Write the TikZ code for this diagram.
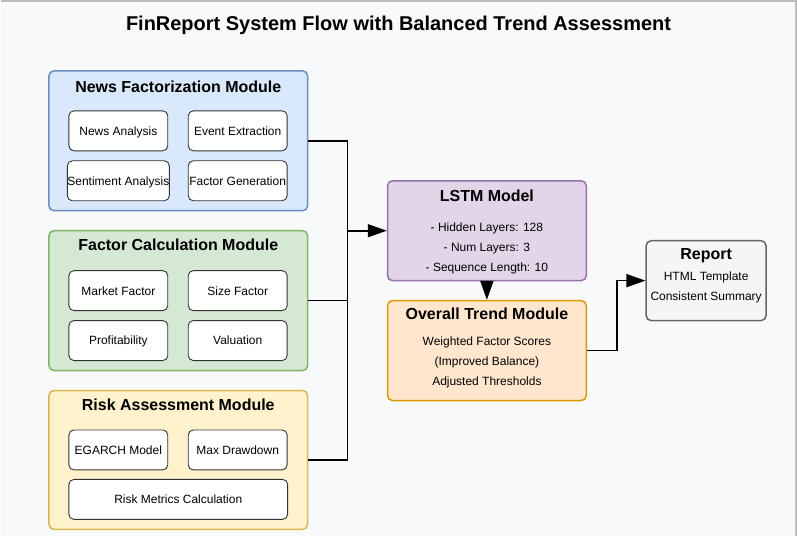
\documentclass[tikz,border=0pt]{standalone}
\usepackage{fontspec}
\setmainfont{Liberation Sans}
\usetikzlibrary{arrows.meta}
\definecolor{page-bg}{HTML}{F8F9FA}
\definecolor{page-edge}{HTML}{BDBDBD}
\definecolor{news-fill}{HTML}{DAE8FC}
\definecolor{news-line}{HTML}{6C8EBF}
\definecolor{factor-fill}{HTML}{D5E8D4}
\definecolor{factor-line}{HTML}{82B366}
\definecolor{risk-fill}{HTML}{FFF2CC}
\definecolor{risk-line}{HTML}{D6B656}
\definecolor{lstm-fill}{HTML}{E1D5E7}
\definecolor{lstm-line}{HTML}{9673A6}
\definecolor{trend-fill}{HTML}{FFE6CC}
\definecolor{trend-line}{HTML}{D79B00}
\definecolor{report-fill}{HTML}{F5F5F5}
\definecolor{report-line}{HTML}{666666}
\tikzset{
    module-box/.style = {draw=#1-line, fill=#1-fill, line width=1.5pt, rectangle, rounded corners=5pt, minimum width=259pt, minimum height=140pt, inner sep=0pt},
    module-title/.style = {font=\fontsize{16}{18}\selectfont\bfseries, text height=11.5pt, text depth=0pt, anchor=base},
    sub-box/.style = {draw=black!80, fill=white, line width=0.9pt, rectangle, rounded corners=5pt, minimum width=99pt, minimum height=40pt, inner sep=0pt, text height=8.8pt, text depth=0pt, font=\fontsize{12}{14}\selectfont},
    block-text/.style = {align=center, font=\fontsize{12}{20}\selectfont},
    link/.style = {line width=1.6pt, black},
    link-arrow/.style = {link, -{Triangle[length=19pt, width=13pt]}},
}
\begin{document}
\begin{tikzpicture}[x=1pt, y=-1pt]
\fill[page-bg] (0,0) rectangle (797,537);
\draw[page-edge, line width=2pt] (0,1) -- (796,1) -- (796,537);
\node[font=\fontsize{20}{22}\selectfont\bfseries, anchor=base] (title) at (398,31) {FinReport System Flow with Balanced Trend Assessment};

% left modules
\node[module-box=news] (news) at (177.5,141) {};
\node[module-title] at ([yshift=-22pt]news.north) {News Factorization Module};
\node[sub-box] (news-a) at (117.5,131) {News Analysis};
\node[sub-box] (news-b) at (237,131) {Event Extraction};
\node[sub-box] (news-c) at (117.5,181) {Sentiment Analysis};
\node[sub-box] (news-d) at (237,181) {Factor Generation};

\node[module-box=factor] (factor) at (177.5,301) {};
\node[module-title] at ([yshift=-21pt]factor.north) {Factor Calculation Module};
\node[sub-box] (factor-a) at (117.5,291) {Market Factor};
\node[sub-box] (factor-b) at (237,291) {Size Factor};
\node[sub-box] (factor-c) at (117.5,341) {Profitability};
\node[sub-box] (factor-d) at (237,341) {Valuation};

\node[module-box=risk, minimum height=139pt] (risk) at (177.5,460.5) {};
\node[module-title] at ([yshift=-21pt]risk.north) {Risk Assessment Module};
\node[sub-box] (risk-a) at (117.5,450.5) {EGARCH Model};
\node[sub-box] (risk-b) at (237,450.5) {Max Drawdown};
\node[sub-box, minimum width=219pt] (risk-c) at (177.5,500) {Risk Metrics Calculation};

% model and outputs
\node[module-box=lstm, minimum width=199pt, minimum height=100pt] (lstm) at (486.5,231) {};
\node[module-title] at ([yshift=-21pt]lstm.north) {LSTM Model};
\node[block-text] at (486.5,249) {- Hidden Layers: 128\\- Num Layers: 3\\- Sequence Length: 10};

\node[module-box=trend, minimum width=199pt, minimum height=100pt] (trend) at (486.5,351) {};
\node[module-title] at ([yshift=-20pt]trend.north) {Overall Trend Module};
\node[block-text] at (486.5,363) {Weighted Factor Scores\\(Improved Balance)\\Adjusted Thresholds};

\node[module-box=report, minimum width=120pt, minimum height=80pt] (report) at (706,281) {};
\node[module-title] at ([yshift=-20pt]report.north) {Report};
\node[block-text] at (706,288) {HTML Template\\Consistent Summary};

% connectors
\coordinate (bus) at (347,231);
\draw[link] (news.east) -| (bus);
\draw[link] (risk.east) -| (bus);
\draw[link] (factor.east) -- (factor.east -| bus);
\draw[link-arrow] (bus) -- (lstm.west);
\draw[link-arrow] (lstm.south) -- (trend.north);
\draw[link-arrow] (trend.east) -- ++(30,0) |- (report.west);
\end{tikzpicture}
\end{document}
